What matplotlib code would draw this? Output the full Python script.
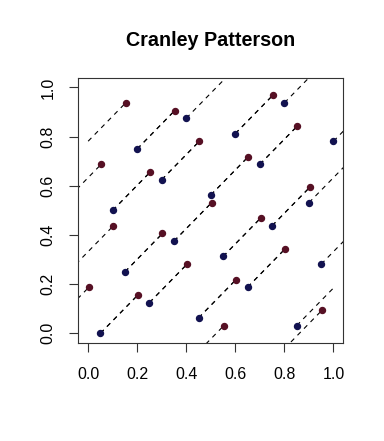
import matplotlib
matplotlib.use("Agg")
import matplotlib.pyplot as plt
import numpy as np

# lattice points (blue) and their rotated copies (red)
blue_x = [0.05, 0.10, 0.15, 0.20, 0.25, 0.30, 0.35, 0.40, 0.45, 0.50,
          0.55, 0.60, 0.65, 0.70, 0.75, 0.80, 0.85, 0.90, 0.95, 1.00]
blue_y = [0.0, 0.5, 0.25, 0.75, 0.125, 0.625, 0.375, 0.875, 0.0625, 0.5625,
          0.3125, 0.8125, 0.1875, 0.6875, 0.4375, 0.9375, 0.03125, 0.53125, 0.28125, 0.78125]

red_x = [0.203, 0.253, 0.303, 0.353, 0.403, 0.453, 0.503, 0.553, 0.603, 0.653,
         0.703, 0.753, 0.803, 0.853, 0.903, 0.953, 0.003, 0.053, 0.103, 0.153]
red_y = [0.156, 0.656, 0.406, 0.906, 0.281, 0.781, 0.531, 0.031, 0.2185, 0.7185,
         0.4685, 0.9685, 0.3435, 0.8435, 0.5935, 0.0935, 0.1873, 0.6873, 0.4373, 0.9373]

shift_x = 0.153
shift_y = 0.156

ticks = [0.0, 0.2, 0.4, 0.6, 0.8, 1.0]
tick_labels = ["0.0", "0.2", "0.4", "0.6", "0.8", "1.0"]

plt.rcParams["font.family"] = ["Liberation Sans", "DejaVu Sans"]

fig = plt.figure(figsize=(3.84, 4.41), dpi=100)
ax = fig.add_axes([0.204, 0.222, 0.690, 0.602])

bx = np.array(blue_x)
by = np.array(blue_y)
rx = np.array(red_x)
ry = np.array(red_y)

dash = dict(color="black", linewidth=0.8, linestyle=(0, (4.2, 4.2)))
for i in range(len(bx)):
    ax.plot([bx[i], bx[i] + shift_x], [by[i], by[i] + shift_y], **dash)
    ax.plot([rx[i] - shift_x, rx[i]], [ry[i] - shift_y, ry[i]], **dash)

ax.plot(bx, by, "o", color="#121250", markersize=4.3, linestyle="none")
ax.plot(rx, ry, "o", color="#561024", markersize=4.3, linestyle="none")

ax.set_xlim(-0.04, 1.04)
ax.set_ylim(-0.04, 1.04)
ax.set_xticks(ticks)
ax.set_xticklabels(tick_labels)
ax.set_yticks(ticks)
ax.set_yticklabels(tick_labels, rotation=90, va="center")
ax.tick_params(axis="both", direction="out", length=6.7, width=0.8,
               labelsize=11.5, color="#333333")
ax.tick_params(axis="x", pad=10.6)
ax.tick_params(axis="y", pad=9.7)
for s in ax.spines.values():
    s.set_linewidth(0.8)
    s.set_color("#333333")

ax.set_title("Cranley Patterson", fontsize=14.2, fontweight="bold", pad=23)

fig.savefig("out.png", dpi=100)
